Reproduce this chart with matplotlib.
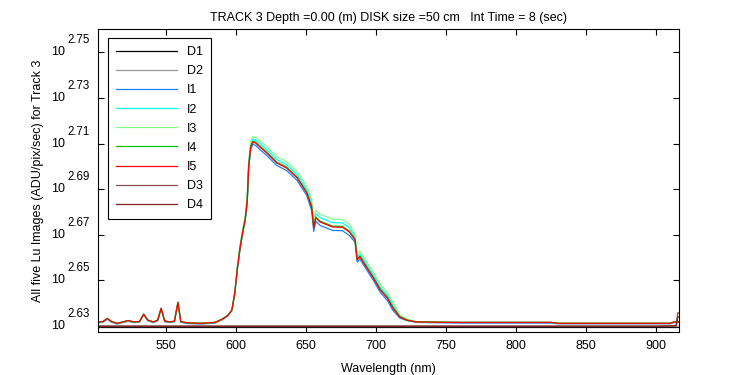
import matplotlib
matplotlib.use("Agg")
import matplotlib.pyplot as plt
from matplotlib.ticker import FixedLocator, NullLocator
from matplotlib.transforms import offset_copy
import numpy as np

plt.rcParams['font.family'] = ['Liberation Sans', 'DejaVu Sans']
plt.rcParams['font.size'] = 9

# wavelength grid shared by the five image spectra (nm)
wl = [502, 505, 508, 511, 515, 519, 523, 527, 531, 534, 537, 541, 544, 546.5, 549,
      553, 556, 558.5, 560.5, 565, 575, 585, 590, 594, 597,
      599, 601, 603, 605, 606.5, 608, 609, 610.5, 612, 614, 617, 622, 629, 636, 643.5,
      650.5, 654, 655.5, 657, 660, 669, 676, 681, 685, 686.5, 688.5, 693.5, 698, 703,
      708, 712, 717, 722, 729,
      760, 800, 825, 830, 870, 910, 913, 916]

# log10 values; outer parts shared by I2..I5
left_part = [2.6318, 2.6320, 2.6333, 2.6320, 2.6312, 2.6318, 2.6324, 2.6318, 2.6320,
             2.6352, 2.6326, 2.6318, 2.6326, 2.6378, 2.6322, 2.6318, 2.6322, 2.6404,
             2.6320, 2.6314, 2.6312, 2.6316, 2.6330, 2.6346, 2.6370]
right_part = [2.6316, 2.6316, 2.6316, 2.6312, 2.6312, 2.6312, 2.6318, 2.6318]

peak_I5 = [2.6440, 2.6555, 2.6648, 2.6720, 2.6765, 2.6850, 2.6997, 2.7085, 2.7106, 2.7102,
           2.7085, 2.7058, 2.7015, 2.6993, 2.6950, 2.6883, 2.6822, 2.6730, 2.6774, 2.6756,
           2.6734, 2.6733, 2.6712, 2.6677, 2.6590, 2.6603, 2.6554, 2.6511, 2.6458, 2.6423,
           2.6379, 2.6339, 2.6326, 2.6318]
peak_I4 = [2.6441, 2.6557, 2.6651, 2.6723, 2.6768, 2.6854, 2.7001, 2.7089, 2.7110, 2.7106,
           2.7089, 2.7062, 2.7019, 2.6997, 2.6954, 2.6887, 2.6826, 2.6734, 2.6778, 2.6760,
           2.6738, 2.6737, 2.6716, 2.6681, 2.6594, 2.6607, 2.6558, 2.6515, 2.6462, 2.6427,
           2.6383, 2.6341, 2.6326, 2.6318]
peak_I3 = [2.6445, 2.6565, 2.6660, 2.6732, 2.6777, 2.6875, 2.7022, 2.7110, 2.7131, 2.7127,
           2.7113, 2.7086, 2.7043, 2.7021, 2.6978, 2.6911, 2.6856, 2.6764, 2.6808, 2.6790,
           2.6768, 2.6767, 2.6746, 2.6702, 2.6615, 2.6628, 2.6579, 2.6536, 2.6483, 2.6448,
           2.6404, 2.6349, 2.6331, 2.6318]
peak_I2 = [2.6443, 2.6560, 2.6655, 2.6727, 2.6772, 2.6863, 2.7010, 2.7098, 2.7119, 2.7115,
           2.7100, 2.7073, 2.7030, 2.7008, 2.6965, 2.6898, 2.6841, 2.6749, 2.6793, 2.6775,
           2.6753, 2.6752, 2.6731, 2.6690, 2.6603, 2.6616, 2.6567, 2.6524, 2.6471, 2.6436,
           2.6392, 2.6344, 2.6328, 2.6318]
I1 = [2.6315, 2.6317, 2.6330, 2.6317, 2.6309, 2.6315, 2.6321, 2.6315, 2.6317, 2.6349,
      2.6323, 2.6315, 2.6323, 2.6375, 2.6319, 2.6315, 2.6319, 2.6401, 2.6317, 2.6311,
      2.6309, 2.6313, 2.6327, 2.6343, 2.6367,
      2.6438, 2.6551, 2.6643, 2.6715, 2.6760, 2.6840, 2.6987, 2.7075, 2.7096, 2.7092,
      2.7074, 2.7047, 2.7004, 2.6982, 2.6939, 2.6872, 2.6807, 2.6715, 2.6759, 2.6741,
      2.6719, 2.6718, 2.6697, 2.6667, 2.6580, 2.6593, 2.6544, 2.6501, 2.6448, 2.6413,
      2.6369, 2.6335, 2.6324, 2.6316,
      2.6313, 2.6313, 2.6313, 2.6310, 2.6310, 2.6310, 2.6315, 2.6316]
I2 = left_part + peak_I2 + right_part
I3 = left_part + peak_I3 + right_part
I4 = left_part + peak_I4 + right_part
I5 = left_part + peak_I5 + right_part

# dark spectra
dark_wl = [502, 600, 700, 800, 900, 913, 914.5, 915.5, 916]
D1 = [2.6297, 2.6297, 2.6297, 2.6297, 2.6297, 2.6297, 2.6297, 2.6297, 2.6297]
D2 = [2.6302, 2.6302, 2.6302, 2.6302, 2.6302, 2.6302, 2.6302, 2.6302, 2.6302]
D3 = [2.6300, 2.6300, 2.6300, 2.6300, 2.6300, 2.6302, 2.6305, 2.6358, 2.6358]
D4 = [2.6299, 2.6299, 2.6299, 2.6299, 2.6299, 2.6300, 2.6302, 2.6340, 2.6340]

series = [
    ('D1', dark_wl, D1, 'black'),
    ('D2', dark_wl, D2, '#999999'),
    ('I1', wl, I1, '#1a80ff'),
    ('I2', wl, I2, 'cyan'),
    ('I3', wl, I3, '#80ff80'),
    ('I4', wl, I4, '#00c000'),
    ('I5', wl, I5, '#ff0000'),
    ('D3', dark_wl, D3, '#8c5050'),
    ('D4', dark_wl, D4, '#802020'),
]

ytick_exp = [2.63, 2.65, 2.67, 2.69, 2.71, 2.73, 2.75]
xticks = [550, 600, 650, 700, 750, 800, 850, 900]

fig = plt.figure(figsize=(7.5, 3.75), dpi=100)
ax = fig.add_axes([0.1307, 0.1147, 0.9053 - 0.1307, 0.9227 - 0.1147])

for name, x, y, c in series:
    ax.plot(x, 10 ** np.array(y), color=c, lw=0.9, label=name)

ax.set_yscale('log')
ax.set_xlim(501.4, 916.4)
ax.set_ylim(10 ** 2.6274, 10 ** 2.7602)
ax.xaxis.set_major_locator(FixedLocator(xticks))
ax.yaxis.set_major_locator(FixedLocator([10 ** e for e in ytick_exp]))
ax.yaxis.set_minor_locator(NullLocator())
ax.tick_params(direction='in', top=True, right=True, length=4, width=0.8, labelsize=9)
ax.tick_params(axis='x', pad=5.5)
ax.tick_params(axis='y', labelleft=False)
for s in ax.spines.values():
    s.set_linewidth(0.8)

# MATLAB style "10" with raised exponent
ytrans = ax.get_yaxis_transform()
for e in ytick_exp:
    base_tr = offset_copy(ytrans, fig=fig, x=-33, y=-3, units='dots')
    exp_tr = offset_copy(ytrans, fig=fig, x=-31, y=9, units='dots')
    ax.text(0, 10 ** e, '10', transform=base_tr, ha='right', va='baseline', fontsize=9)
    ax.text(0, 10 ** e, '%.2f' % e, transform=exp_tr, ha='left', va='baseline', fontsize=8.3)

ax.set_title('TRACK 3 Depth =0.00 (m) DISK size =50 cm   Int Time = 8 (sec)', fontsize=9, pad=6)
ax.set_xlabel('Wavelength (nm)', fontsize=9, labelpad=8)
ax.set_ylabel('All five Lu Images (ADU/pix/sec) for Track 3', fontsize=9)
ax.yaxis.set_label_coords(-0.093, 0.5)

leg = ax.legend(loc='upper left', bbox_to_anchor=(0.0172, 0.970), borderaxespad=0,
                fontsize=9, handlelength=4.9, handletextpad=0.75, labelspacing=0.57,
                fancybox=False, framealpha=1, borderpad=0.65)
leg.get_frame().set_edgecolor('black')
leg.get_frame().set_linewidth(0.8)

fig.savefig('out.png', dpi=100)
